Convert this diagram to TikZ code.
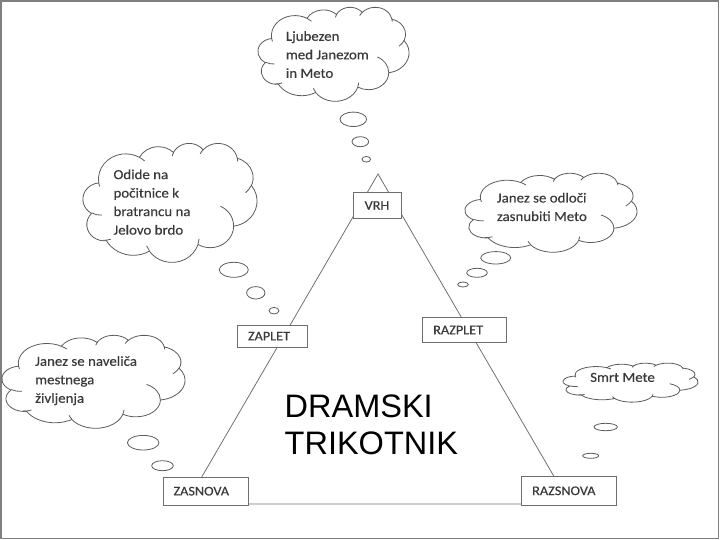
\documentclass[tikz,border=0pt]{standalone}
\usepackage{fontspec}
\setmainfont{Carlito}
\newfontfamily\stretchfont[FakeStretch=1.08,FakeBold=0.35]{Carlito}
\newfontfamily\arialf{Liberation Sans}
\usetikzlibrary{shapes.geometric}
\definecolor{framegray}{HTML}{7F7F7F}
\definecolor{linegray}{HTML}{707070}
\definecolor{boxgray}{HTML}{6E6E6E}
\definecolor{cloudgray}{HTML}{5C5C5C}
\definecolor{txtgray}{HTML}{3A3A3A}
% Office-style cloud outline (43200 grid scaled by 1/100)
\newcommand\omove[2]{%
  \pgfmathsetmacro\opx{(#1)*\oxs}\pgfmathsetmacro\opy{0-(#2)*\oys}%
  \pgfpathmoveto{\pgfpoint{\opx pt}{\opy pt}}}
\newcommand\oarcto[4]{%
  \pgfmathsetmacro\oa{atan2((#1)*sin(#3),(#2)*cos(#3))}%
  \pgfmathsetmacro\ob{atan2((#1)*sin((#3)+(#4)),(#2)*cos((#3)+(#4)))}%
  \pgfmathsetmacro\od{\ob-(\oa)}%
  \pgfmathsetmacro\od{\od-360*round((\od-(#4))/360)}%
  \pgfmathsetmacro\ona{0-(\oa)}%
  \pgfmathsetmacro\one{0-(\oa)-(\od)}%
  \pgfmathsetmacro\orx{(#1)*\oxs}%
  \pgfmathsetmacro\ory{(#2)*\oys}%
  \pgfpatharc{\ona}{\one}{\orx pt and \ory pt}}
\newcommand\officecloud[4]{%
  \begin{pgfscope}
  \pgftransformshift{\pgfpoint{#1pt}{-#2pt}}%
  \pgfmathsetmacro\oxs{#3/432}%
  \pgfmathsetmacro\oys{#4/432}%
  \pgfsetlinewidth{0.8pt}%
  \pgfsetstrokecolor{cloudgray}%
  \pgfsetfillcolor{white}%
  \omove{39}{143.7}%
  \oarcto{67.53}{91.90}{-190.4875}{123.7805}%
  \oarcto{53.33}{72.67}{-144.1024}{89.9452}%
  \oarcto{43.65}{59.45}{-145.8079}{99.7230}%
  \oarcto{48.57}{65.95}{-130.9861}{117.2417}%
  \oarcto{53.33}{72.73}{-78.7089}{109.0269}%
  \oarcto{67.75}{92.20}{-46.2673}{130.2690}%
  \oarcto{57.85}{78.67}{0.6250}{114.0333}%
  \oarcto{67.52}{92.15}{22.4516}{115.1726}%
  \oarcto{77.20}{105.43}{66.2426}{75.7110}%
  \oarcto{43.60}{59.18}{-274.9421}{146.7356}%
  \oarcto{43.45}{59.45}{-246.8285}{152.5189}%
  \pgfpathclose
  \pgfusepath{fill,stroke}%
  \omove{46.93}{261.77}\oarcto{43.45}{59.45}{86.7420}{26.4295}%
  \omove{69.28}{348.99}\oarcto{43.60}{59.18}{73.6105}{19.5045}%
  \omove{164.78}{390.90}\oarcto{67.52}{92.15}{137.6242}{14.0811}%
  \omove{288.27}{347.51}\oarcto{67.52}{92.15}{6.4533}{15.9984}%
  \omove{341.29}{229.54}\oarcto{57.85}{78.67}{-70.2924}{70.9174}%
  \omove{417.98}{153.54}\oarcto{53.33}{72.73}{30.3180}{27.7515}%
  \omove{383.24}{54.26}\oarcto{48.57}{65.95}{-13.7443}{14.8589}%
  \omove{290.78}{39.52}\oarcto{48.57}{65.95}{-149.1815}{18.1954}%
  \omove{221.41}{47.20}\oarcto{43.65}{59.45}{-163.4943}{19.6856}%
  \omove{140.00}{51.92}\oarcto{67.53}{91.90}{-66.7070}{12.3194}%
  \omove{41.27}{157.89}\oarcto{67.53}{91.90}{157.6544}{11.8582}%
  \pgfusepath{stroke}%
  \end{pgfscope}}
\begin{document}
\begin{tikzpicture}[x=1pt,y=-1pt,
  stagebox/.style={draw=boxgray, fill=white, line width=0.8pt, text=txtgray,
    font=\stretchfont\fontsize{13.2}{16}\selectfont, inner xsep=10.5pt, inner ysep=0pt, align=left},
  thoughttext/.style={anchor=north west, inner sep=0pt, text=txtgray, align=left,
    font=\stretchfont\fontsize{13.8}{18.5}\selectfont},
  bubble/.style={ellipse, draw=cloudgray, line width=0.8pt, inner sep=0pt}]
\useasboundingbox (0,0) rectangle (720,540);
\draw[framegray, line width=1.3pt] (1,1) rectangle (718.5,538.5);

% triangle
\coordinate (apex) at (378,174);
\coordinate (bl) at (186,504);
\coordinate (br) at (570,504);
\draw[linegray, line width=0.8pt] (apex) -- (bl) -- (br) -- cycle;

% stage boxes
\node[stagebox, minimum width=48pt, text width=27pt, minimum height=26pt, align=center] (vrh) at (377,205.5) {VRH};
\node[stagebox, minimum width=69.5pt, text width=48.5pt, minimum height=22.3pt] (zaplet) at (272.2,336.2) {ZAPLET};
\node[stagebox, minimum width=84pt, text width=63pt, minimum height=25.4pt] (razplet) at (464.7,330) {RAZPLET};
\node[stagebox, minimum width=85.3pt, text width=64.3pt, minimum height=27.7pt] (zasnova) at (205.7,491.2) {ZASNOVA};
\node[stagebox, minimum width=94.3pt, text width=73.3pt, minimum height=28.3pt] (razsnova) at (568.8,490.8) {RAZSNOVA};

% title
\node[anchor=north west, inner sep=0pt, align=left, font=\arialf\fontsize{32.5}{37}\selectfont] (title) at (284.5,394.5) {DRAMSKI\\TRIKOTNIK};

% clouds (x0, y0, width, height)
\officecloud{258}{7}{151}{94}
\officecloud{83}{143}{174}{119}
\officecloud{2}{335}{183}{93}
\officecloud{465}{173}{172}{79}
\officecloud{563}{363}{135}{39}

\node[thoughttext] (t1) at (285.7,31) {Ljubezen\\med Janezom\\in Meto};
\node[thoughttext] (t2) at (113.3,169.3) {Odide na\\počitnice k\\bratrancu na\\Jelovo brdo};
\node[thoughttext] (t3) at (35,356) {Janez se naveliča\\mestnega\\življenja};
\node[thoughttext] (t4) at (496.7,192.7) {Janez se odloči\\zasnubiti Meto};
\node[thoughttext] (t5) at (590,372.7) {Smrt Mete};

% bubbles
\node[bubble, minimum width=26.6pt, minimum height=14.4pt] (b11) at (353.3,119.3) {};
\node[bubble, minimum width=16.6pt, minimum height=10pt] (b12) at (360.3,141.7) {};
\node[bubble, minimum width=8.6pt, minimum height=5.6pt] (b13) at (366.3,159.3) {};

\node[bubble, minimum width=29pt, minimum height=15pt] (b21) at (233.8,269.8) {};
\node[bubble, minimum width=18.4pt, minimum height=12.4pt] (b22) at (255.8,292.8) {};
\node[bubble, minimum width=10pt, minimum height=6.6pt] (b23) at (274,310.7) {};

\node[bubble, minimum width=31.6pt, minimum height=14.6pt] (b31) at (143.2,442.7) {};
\node[bubble, minimum width=21.6pt, minimum height=10pt] (b32) at (162.5,465.7) {};

\node[bubble, minimum width=30pt, minimum height=12.4pt] (b41) at (495.7,257.8) {};
\node[bubble, minimum width=20.6pt, minimum height=9pt] (b42) at (477,272.8) {};
\node[bubble, minimum width=10.6pt, minimum height=5pt] (b43) at (463,284.5) {};

\node[bubble, minimum width=23.4pt, minimum height=7.4pt] (b51) at (605.7,427) {};
\node[bubble, minimum width=16pt, minimum height=5pt] (b52) at (590.7,455.8) {};
\end{tikzpicture}
\end{document}
